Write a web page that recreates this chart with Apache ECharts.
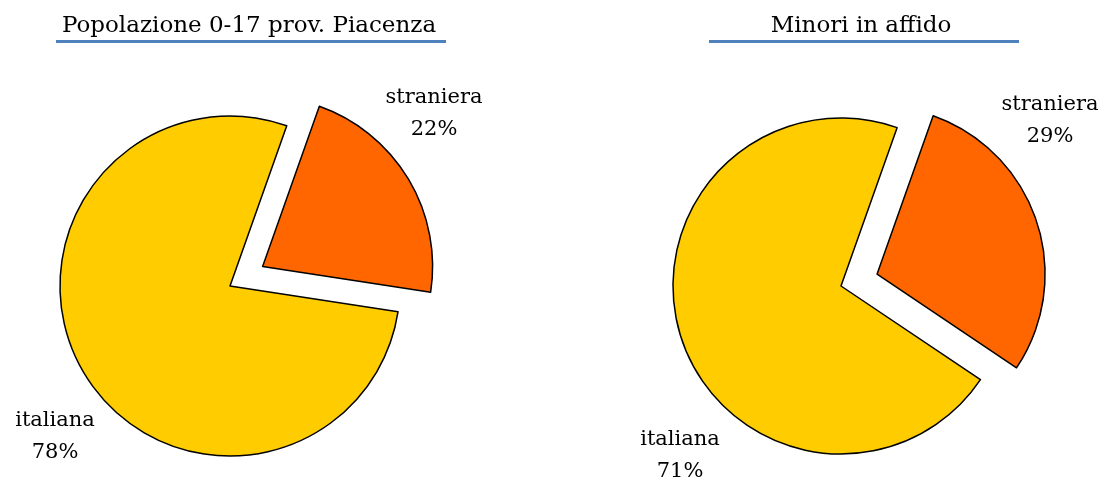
<!DOCTYPE html>
<html>
<head>
<meta charset="utf-8">
<script src="https://cdn.jsdelivr.net/npm/echarts@6/dist/echarts.min.js"></script>
<style>
  html, body { margin: 0; padding: 0; background: #fff; }
  #chart { width: 1102px; height: 484px; }
</style>
</head>
<body>
<div id="chart"></div>
<script>
// dati
const categorie = ['straniera', 'italiana'];
const popolazione = [22, 78];
const affido = [29, 71];
const titoli = ['Popolazione 0-17 prov. Piacenza', 'Minori in affido'];

const colori = ['#FF6600', '#FFCC00'];
const font = 'DejaVu Serif';
const startAngle = 70.5;
const esplosione = 38;

// posizione delle etichette (come nell'originale, messe a mano)
const etichette = [
  [[434, 114], [55, 437]],
  [[1050, 121], [680, 456]],
];

const chart = echarts.init(document.getElementById('chart'), null, { renderer: 'canvas' });

// una serie per fetta: quella "esplosa" ha il centro spostato lungo la bisettrice
const makeSerie = (valori, idx, center, radius, fetta) => {
  const tot = valori.reduce((a, b) => a + b, 0);
  let c = center;
  if (fetta === 0) {
    const mid = (startAngle - (valori[0] / tot) * 180) * Math.PI / 180;
    c = [center[0] + esplosione * Math.cos(mid), center[1] - esplosione * Math.sin(mid)];
  }
  return {
    type: 'pie',
    center: c,
    radius: radius,
    startAngle: startAngle,
    clockwise: true,
    animation: false,
    silent: true,
    percentPrecision: 0,
    emphasis: { disabled: true },
    label: {
      show: true,
      position: 'inside',
      overflow: 'none',
      formatter: '{b}\n{d}%',
      color: '#000',
      fontFamily: font,
      fontSize: 21,
      lineHeight: 32,
      align: 'center',
    },
    labelLine: { show: false },
    labelLayout: (p) => ({
      x: etichette[idx][p.dataIndex][0],
      y: etichette[idx][p.dataIndex][1],
      align: 'center',
      verticalAlign: 'middle',
    }),
    data: categorie.map((nome, i) => ({
      name: nome,
      value: valori[i],
      itemStyle: i === fetta
        ? { color: colori[i], borderColor: '#000', borderWidth: 1.5 }
        : { color: 'rgba(0,0,0,0)', borderWidth: 0 },
      label: { show: i === fetta },
    })),
  };
};

chart.setOption({
  backgroundColor: '#fff',
  title: [
    {
      text: titoli[0],
      left: 249,
      top: 15,
      padding: 0,
      textAlign: 'center',
      textStyle: { fontFamily: font, fontSize: 23, fontWeight: 'normal', color: '#000' },
    },
    {
      text: titoli[1],
      left: 861,
      top: 15,
      padding: 0,
      textAlign: 'center',
      textStyle: { fontFamily: font, fontSize: 23, fontWeight: 'normal', color: '#000' },
    },
  ],
  graphic: [
    { type: 'line', shape: { x1: 56, y1: 41.5, x2: 446, y2: 41.5 }, style: { stroke: '#4F81BD', lineWidth: 3 } },
    { type: 'line', shape: { x1: 709, y1: 41.5, x2: 1019, y2: 41.5 }, style: { stroke: '#4F81BD', lineWidth: 3 } },
  ],
  series: [
    makeSerie(popolazione, 0, [230, 286], 170, 1),
    makeSerie(popolazione, 0, [230, 286], 170, 0),
    makeSerie(affido, 1, [841, 286], 168, 1),
    makeSerie(affido, 1, [841, 286], 168, 0),
  ],
});
</script>
</body>
</html>
